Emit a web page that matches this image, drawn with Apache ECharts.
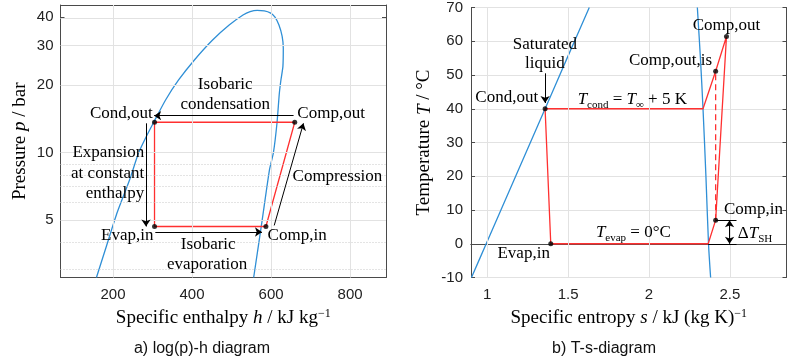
<!DOCTYPE html>
<html><head><meta charset="utf-8">
<script src="https://cdn.jsdelivr.net/npm/echarts@6/dist/echarts.min.js"></script>
<style>html,body{margin:0;padding:0;background:#fff}#c{width:800px;height:358px}</style>
</head><body><div id="c"></div>
<script>
// ===== a) log(p)-h diagram data =====
const phDomeH = [158,183,210,242,265,283,303,333,366,406,452,494,529,547,565,583,598,610,620,628,631,630,625,621,615,606,596,577,556];
const phDomeP = [2.78,3.82,5.38,7.57,10,11.68,13.65,17.15,21.05,25.84,31.71,36.97,40.96,42.41,42.98,42.76,41.9,40.12,36.97,33.03,29.21,24.13,21.05,18.37,13.51,10,8.38,4.93,2.78];
const phCycleH = [305,660,587,305,305];
const phCycleP = [13.65,13.65,4.69,4.69,13.65];
const phPointH = [305,660,587,305];
const phPointP = [13.65,13.65,4.69,4.69];
const phXTicks = [200,400,600,800];
const phYTicks = [5,10,20,30,40];
const phYMinor = [3,4,6,7,8,9];
const phXRange = [67,891];
const phYRange = [2.78,45.4];
const phArrowFrom = [[657,14.6],[283.4,13.5],[307,4.43],[608,4.74]];
const phArrowTo   = [[304,14.6],[283.4,4.69],[577,4.43],[682,13.5]];
const phLabels = [
  {t:'Isobaric', h:484, p:20.1},
  {t:'condensation', h:484, p:16.4},
  {t:'Cond,out', h:221, p:15.0},
  {t:'Comp,out', h:752, p:15.0},
  {t:'Expansion', h:279, p:10.0, a:'right'},
  {t:'at constant', h:279, p:8.10, a:'right'},
  {t:'enthalpy', h:279, p:6.60, a:'right'},
  {t:'Compression', h:768, p:7.82},
  {t:'Evap,in', h:236, p:4.28},
  {t:'Comp,in', h:666, p:4.28},
  {t:'Isobaric', h:441, p:3.89},
  {t:'evaporation', h:438, p:3.19}
];

// ===== b) T-s diagram data =====
const tsLiqS = [0.903,0.994,1.176,1.358,1.494,1.631];
const tsLiqT = [-10,0,20,40,55,70];
const tsVapS = [2.381,2.368,2.352,2.334,2.318,2.299];
const tsVapT = [-10,0,20,40,55,70];
const tsCycleS = [1.393,2.366,2.412,2.479,2.412,2.334,1.358,1.393];
const tsCycleT = [0,0,7,61.4,51.1,40,40,0];
const tsIsenS = [2.412,2.412];
const tsIsenT = [7,51.1];
const tsPointS = [1.358,1.393,2.412,2.412,2.479];
const tsPointT = [40,0,7,51.1,61.4];
const tsXTicks = [1,1.5,2,2.5];
const tsXRange = [0.9,2.85];
const tsYRange = [-10,70];
const tsArrowFrom = [[1.358,50.5]];
const tsArrowTo   = [[1.358,41.7]];
const tsDoubleFrom = [[2.498,7]];
const tsDoubleTo   = [[2.498,0]];
const tsPlainFrom = [[2.412,7],[2.366,0]];
const tsPlainTo   = [[2.541,7],[2.541,0]];
const tsLabels = [
  {t:'Saturated', s:1.3565, T:59.1},
  {t:'liquid', s:1.3565, T:53.35},
  {t:'Cond,out', s:1.121, T:43.2},
  {t:'{i|T}{sub|cond} = {i|T}{sub|∞} + 5 K', s:1.897, T:42.8},
  {t:'Comp,out', s:2.479, T:64.6},
  {t:'Comp,out,is', s:2.133, T:54.2},
  {t:'Comp,in', s:2.463, T:10.2, a:'left'},
  {t:'{n|Δ}{i|T}{sub|SH}', s:2.549, T:3.06, a:'left'},
  {t:'{i|T}{sub|evap} = 0°C', s:1.9035, T:3.35},
  {t:'Evap,in', s:1.2256, T:-2.8}
];

// ===== styling =====
const SERIF = '"Liberation Serif", "Times New Roman", serif';
const SANS = '"Liberation Sans", Arial, sans-serif';
const BLUE = '#2f8fd6', RED = '#ff3030', AX = '#4a4a4a', GRIDC = '#e2e2e2';
const lg = v => Math.log10(v);
const zip = (a,b,f) => a.map((v,i)=>[v, f ? f(b[i]) : b[i]]);

const RICH = {
  n:{fontFamily:SERIF, fontSize:17, fill:'#000'},
  i:{fontFamily:SERIF, fontSize:17, fontStyle:'italic', fill:'#000'},
  sub:{fontFamily:SERIF, fontSize:11, fill:'#000', verticalAlign:'bottom', lineHeight:22}
};
const NAME_RICH = {
  i:{fontFamily:SERIF, fontSize:19, fontStyle:'italic', color:'#000'},
  sup:{fontFamily:SERIF, fontSize:12, color:'#000', verticalAlign:'top', lineHeight:22}
};

function textSeries(axisIdx, items, clip){
  return {
    type:'custom', coordinateSystem:'cartesian2d', xAxisIndex:axisIdx, yAxisIndex:axisIdx,
    clip: clip, silent:true, z:10, animation:false,
    data: items.map((it,i)=>[it.x, it.y, i]),
    renderItem: (params, api) => {
      const it = items[api.value(2)];
      const pt = api.coord([api.value(0), api.value(1)]);
      return {type:'text', x:pt[0], y:pt[1], style:{
        text: it.t, fontFamily:SERIF, fontSize:17, fill:'#000',
        align: it.a || 'center', verticalAlign:'middle', rich: RICH
      }};
    }
  };
}
function arrowSeries(axisIdx, from, to, sym){
  return {type:'lines', coordinateSystem:'cartesian2d', xAxisIndex:axisIdx, yAxisIndex:axisIdx,
    silent:true, z:6, animation:false, symbol:sym, symbolSize:7,
    lineStyle:{color:'#000', width:1, opacity:1, curveness:0},
    data: from.map((f,i)=>({coords:[f, to[i]]}))};
}
function gridSeries(axisIdx, lines, dotted){
  return {type:'line', xAxisIndex:axisIdx, yAxisIndex:axisIdx, data:[], silent:true, z:1, animation:false,
    markLine:{silent:true, symbol:'none', animation:false, label:{show:false},
      lineStyle:{color: dotted ? '#c8c8c8' : GRIDC, type: dotted ? [1,2] : 'solid', width:1},
      data: lines}};
}
function baseAxis(extra){
  return Object.assign({
    type:'value', axisLine:{show:true, lineStyle:{color:AX, width:1}},
    axisTick:{show:true, inside:true, length:4, lineStyle:{color:AX}},
    axisLabel:{show:false}, splitLine:{show:false}
  }, extra);
}
const tickLabel = {show:true, fontFamily:SANS, fontSize:15, color:'#222'};

const option = {
  animation:false,
  grid:[
    {left:60.5, top:5, width:325.5, height:272.5, show:false},
    {left:471, top:5, width:315.5, height:272.5, show:false}
  ],
  xAxis:[
    baseAxis({gridIndex:0, position:'bottom', min:phXRange[0], max:phXRange[1],
      axisTick:{show:true, inside:true, length:4, lineStyle:{color:AX}, customValues:phXTicks},
      axisLabel:Object.assign({customValues:phXTicks, margin:10}, tickLabel),
      name:'Specific enthalpy {i|h} / kJ kg{sup|−1}', nameLocation:'middle', nameGap:27,
      nameTextStyle:{fontFamily:SERIF, fontSize:19, color:'#000', rich:NAME_RICH}}),
    baseAxis({gridIndex:0, position:'top', min:phXRange[0], max:phXRange[1],
      axisTick:{show:true, inside:true, length:4, lineStyle:{color:AX}, customValues:phXTicks}}),
    baseAxis({gridIndex:1, position:'bottom', min:tsXRange[0], max:tsXRange[1],
      axisTick:{show:true, inside:true, length:4, lineStyle:{color:AX}, customValues:tsXTicks},
      axisLabel:Object.assign({customValues:tsXTicks, margin:10, formatter:v=>String(+v.toFixed(2))}, tickLabel),
      name:'Specific entropy {i|s} / kJ (kg K){sup|−1}', nameLocation:'middle', nameGap:27,
      nameTextStyle:{fontFamily:SERIF, fontSize:19, color:'#000', rich:NAME_RICH}}),
    baseAxis({gridIndex:1, position:'top', min:tsXRange[0], max:tsXRange[1],
      axisTick:{show:true, inside:true, length:4, lineStyle:{color:AX}, customValues:tsXTicks}})
  ],
  yAxis:[
    baseAxis({gridIndex:0, position:'left', min:lg(phYRange[0]), max:lg(phYRange[1]),
      axisTick:{show:true, inside:true, length:4, lineStyle:{color:AX}, customValues:phYTicks.map(lg)},
      axisLabel:Object.assign({customValues:phYTicks.map(lg), margin:7, formatter:v=>String(Math.round(Math.pow(10,v)))}, tickLabel),
      name:'Pressure {i|p} / bar', nameLocation:'middle', nameGap:31,
      nameTextStyle:{fontFamily:SERIF, fontSize:19, color:'#000', rich:NAME_RICH}}),
    baseAxis({gridIndex:0, position:'right', min:lg(phYRange[0]), max:lg(phYRange[1]),
      axisTick:{show:true, inside:true, length:4, lineStyle:{color:AX}, customValues:phYTicks.map(lg)}}),
    baseAxis({gridIndex:1, position:'left', min:tsYRange[0], max:tsYRange[1], interval:10,
      axisLabel:Object.assign({margin:8}, tickLabel),
      splitLine:{show:true, lineStyle:{color:GRIDC, width:1}},
      name:'Temperature {i|T} / °C', nameLocation:'middle', nameGap:37,
      nameTextStyle:{fontFamily:SERIF, fontSize:19, color:'#000', rich:NAME_RICH}}),
    baseAxis({gridIndex:1, position:'right', min:tsYRange[0], max:tsYRange[1], interval:10})
  ],
  graphic:[
    {type:'text', x:202, y:349, style:{text:'a) log(p)-h diagram', fontFamily:SANS, fontSize:16, fill:'#111', align:'center', verticalAlign:'middle'}},
    {type:'text', x:604, y:349, style:{text:'b) T-s-diagram', fontFamily:SANS, fontSize:16, fill:'#111', align:'center', verticalAlign:'middle'}}
  ],
  series:[
    gridSeries(0, phXTicks.map(v=>({xAxis:v})).concat(phYTicks.map(v=>({yAxis:lg(v)}))), false),
    gridSeries(0, phYMinor.map(v=>({yAxis:lg(v)})), true),
    gridSeries(2, tsXTicks.map(v=>({xAxis:v})), false),
    {type:'line', xAxisIndex:0, yAxisIndex:0, data:zip(phDomeH, phDomeP, lg), smooth:0.2, showSymbol:false, silent:true, z:3,
      lineStyle:{color:BLUE, width:1.3}},
    {type:'line', xAxisIndex:0, yAxisIndex:0, data:zip(phCycleH, phCycleP, lg), showSymbol:false, silent:true, z:4,
      lineStyle:{color:RED, width:1.3}},
    {type:'scatter', xAxisIndex:0, yAxisIndex:0, data:zip(phPointH, phPointP, lg), symbolSize:5, itemStyle:{color:'#000'}, silent:true, z:7},
    arrowSeries(0, phArrowFrom.map(a=>[a[0], lg(a[1])]), phArrowTo.map(a=>[a[0], lg(a[1])]), ['none','arrow']),
    textSeries(0, phLabels.map(l=>({t:l.t, x:l.h, y:lg(l.p), a:l.a})), false),
    {type:'line', xAxisIndex:2, yAxisIndex:2, data:zip(tsLiqS, tsLiqT), smooth:0.3, showSymbol:false, silent:true, z:3,
      lineStyle:{color:BLUE, width:1.3}},
    {type:'line', xAxisIndex:2, yAxisIndex:2, data:zip(tsVapS, tsVapT), smooth:0.3, showSymbol:false, silent:true, z:3,
      lineStyle:{color:BLUE, width:1.3}},
    {type:'line', xAxisIndex:2, yAxisIndex:2, data:zip(tsCycleS, tsCycleT), showSymbol:false, silent:true, z:4,
      lineStyle:{color:RED, width:1.3}},
    {type:'line', xAxisIndex:2, yAxisIndex:2, data:zip(tsIsenS, tsIsenT), showSymbol:false, silent:true, z:4,
      lineStyle:{color:RED, width:1.3, type:[6,4]}},
    arrowSeries(2, tsPlainFrom, tsPlainTo, ['none','none']),
    arrowSeries(2, tsArrowFrom, tsArrowTo, ['none','arrow']),
    arrowSeries(2, tsDoubleFrom, tsDoubleTo, ['arrow','arrow']),
    {type:'scatter', xAxisIndex:2, yAxisIndex:2, data:zip(tsPointS, tsPointT), symbolSize:5, itemStyle:{color:'#000'}, silent:true, z:7},
    textSeries(2, tsLabels.map(l=>({t:l.t, x:l.s, y:l.T, a:l.a})), true)
  ]
};
const chart = echarts.init(document.getElementById('c'), null, {renderer:'canvas'});
chart.setOption(option);
</script></body></html>
